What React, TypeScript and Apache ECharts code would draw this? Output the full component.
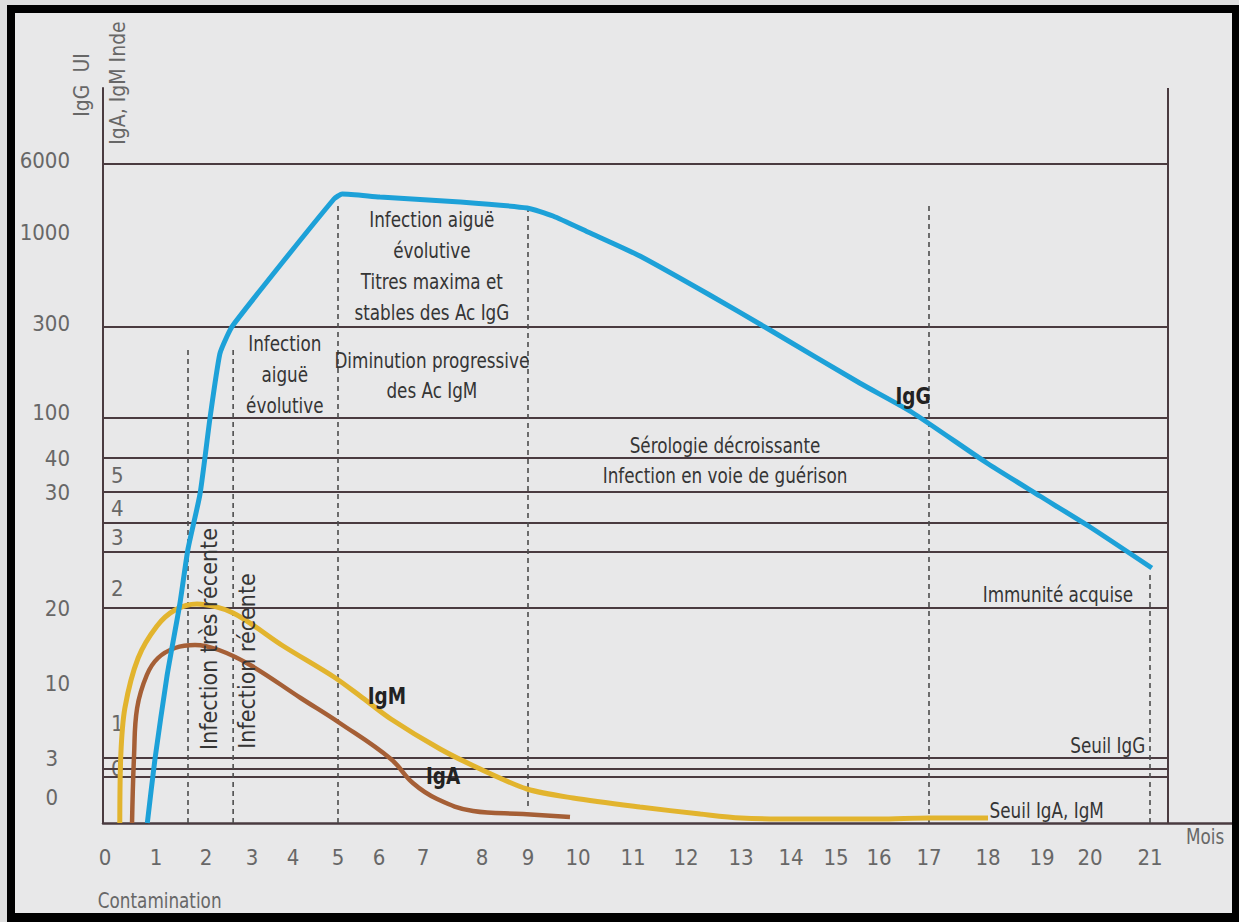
import React, { useEffect, useRef } from "react";
import * as echarts from "echarts";

// ---------- data ----------
const MONTH_LABELS = ["0","1","2","3","4","5","6","7","8","9","10","11","12","13","14","15","16","17","18","19","20","21"];
// position of each month tick along the (irregularly graduated) time axis
const MONTH_POS = [2, 53, 103, 149, 190, 235, 276, 320, 379, 425, 475, 530, 583, 638, 688, 733, 776, 826, 885, 939, 987, 1047];

// vertical graduation (arbitrary, non-linear scale of the original)
const IGG_LABELS = ["6000", "1000", "300", "100", "40", "30", "20", "10", "3", "0"];
const IGG_LABEL_LEVELS = [663, 591, 500, 411, 365, 331, 215, 140, 65, 26];
const IGAM_LABELS = ["5", "4", "3", "2", "1", "0"];
const IGAM_LABEL_LEVELS = [348, 315, 286, 235, 100, 55];

const LEVEL_LINES = [659, 496, 405, 365, 331, 300, 271, 215, 65, 54, 46];
const Y_TOP = 735;
const RIGHT_EDGE = 1065;
const X_END = 1129;

// [month, level]
const IGG_CURVE: [number, number][] = [
  [0.83, 0], [0.98, 64], [1.22, 147], [1.48, 220], [1.64, 274], [1.88, 329], [2.09, 406],
  [2.3, 469], [2.46, 487], [2.59, 498], [3.75, 561], [4.91, 624], [5.0, 627],
  [5.1, 629], [6.02, 626], [7.63, 621], [8.98, 615], [9.5, 607], [10.18, 591], [11.13, 567],
  [12.4, 529], [13.58, 493], [15.55, 440], [16.65, 411], [17.98, 360], [18.96, 327],
  [20.0, 296], [21.03, 255],
];
const IGM_CURVE: [number, number][] = [
  [0.29, 0], [0.31, 68], [0.39, 115], [0.65, 165], [1.02, 197], [1.38, 213], [1.82, 219],
  [2.59, 210], [3.76, 177], [4.91, 146], [5.54, 127], [6.27, 104], [7.29, 74], [7.97, 54],
  [8.98, 34], [9.9, 25], [11.13, 16], [12.26, 9], [13.0, 5], [14.18, 4], [16.0, 4],
  [17.0, 5], [18.0, 5],
];
const IGA_CURVE: [number, number][] = [
  [0.53, 0], [0.57, 68], [0.63, 115], [0.82, 148], [1.04, 165], [1.38, 175], [1.78, 178],
  [2.28, 173], [2.96, 158], [4.17, 125], [5.04, 100], [6.27, 64], [6.77, 40], [7.24, 24],
  [7.85, 12], [8.89, 9], [9.84, 6],
];

// phase separators: [month, from level, to level]
const PHASE_MARKS: [number, number, number][] = [
  [1.64, 0, 475], [2.59, 0, 475], [5, 0, 620], [9, 17, 613], [17, 0, 619], [21, 0, 250],
];

// ---------- helpers ----------
function monthToPos(m: number): number {
  const n = MONTH_POS.length;
  let i = Math.floor(m);
  if (i < 0) i = 0;
  if (i > n - 2) i = n - 2;
  return MONTH_POS[i] + (m - i) * (MONTH_POS[i + 1] - MONTH_POS[i]);
}

const FONT = "'DejaVu Sans Condensed', 'DejaVu Sans', sans-serif";
const PAPER = "#e8e8e9";
const RULE = "#4a3b40";
const TEXT = "#353535";
const NUM = "#676767";

type Ann = { text: string; at: [number, number]; lh?: number; rotate?: boolean; bold?: boolean; align?: string; color?: string; size?: number; sx?: number };

const ANNOTATIONS: Ann[] = [
  { text: "Infection aiguë\névolutive\nTitres maxima et\nstables des Ac IgG", at: [7.15, 556], lh: 31 },
  { text: "Diminution progressive\ndes Ac IgM", at: [7.15, 447], lh: 30 },
  { text: "Infection\naiguë\névolutive", at: [3.8, 448], lh: 31 },
  { text: "Infection très récente", at: [2.07, 184], rotate: true, size: 23, sx: 1 },
  { text: "Infection récente", at: [2.89, 162], rotate: true, size: 23, sx: 1 },
  { text: "Sérologie décroissante\nInfection en voie de guérison", at: [12.71, 362], lh: 30 },
  { text: "IgG", at: [16.68, 427], bold: true, size: 23 },
  { text: "IgM", at: [6.18, 127], bold: true, size: 23 },
  { text: "IgA", at: [7.34, 47], bold: true, size: 23 },
  { text: "Immunité acquise", at: [20.72, 228], align: "right" },
  { text: "Seuil IgG", at: [20.92, 77], align: "right" },
  { text: "Seuil IgA, IgM", at: [20.23, 12], align: "right" },
  { text: "Mois", at: [21.92, -14], color: NUM },
  { text: "Contamination", at: [-0.14, -78], align: "left", color: NUM },
  { text: "IgG  UI", at: [-0.45, 738], rotate: true, color: NUM, sx: 1 },
  { text: "IgA, IgM Inde", at: [0.25, 740], rotate: true, color: NUM, sx: 1 },
];

function labelFor(levels: number[], labels: string[], v: number): string {
  const i = levels.findIndex((l) => Math.abs(l - v) < 0.01);
  return i >= 0 ? labels[i] : "";
}

export default function App() {
  const ref = useRef<HTMLDivElement>(null);

  useEffect(() => {
    if (!ref.current) return;
    const chart = echarts.init(ref.current, undefined, { renderer: "svg" });

    const toXY = (arr: [number, number][]) => arr.map(([m, u]) => [monthToPos(m), u]);

    const option: any = {
      animation: false,
      backgroundColor: PAPER,
      grid: { left: 88, top: 75, right: 0, bottom: 90, containLabel: false },
      xAxis: {
        type: "value",
        min: 0,
        max: X_END,
        axisLine: { show: true, lineStyle: { color: RULE, width: 2.5 } },
        axisTick: { show: false },
        splitLine: { show: false },
        axisLabel: {
          customValues: MONTH_POS,
          formatter: (v: number) => labelFor(MONTH_POS, MONTH_LABELS, v),
          color: NUM,
          fontSize: 22,
          fontFamily: FONT,
          margin: 23,
          hideOverlap: false,
        },
      },
      yAxis: [
        {
          type: "value",
          min: 0,
          max: Y_TOP,
          axisLine: { show: true, lineStyle: { color: RULE, width: 2 } },
          axisTick: { show: false },
          splitLine: { show: false },
          axisLabel: {
            customValues: IGG_LABEL_LEVELS,
            formatter: (v: number) => {
              const t = labelFor(IGG_LABEL_LEVELS, IGG_LABELS, v);
              return t.length === 1 ? "{s|" + t + "}" : t;
            },
            color: NUM,
            fontSize: 22,
            fontFamily: FONT,
            margin: 33,
            rich: { s: { color: NUM, fontSize: 22, fontFamily: FONT, padding: [0, 12, 0, 0] } },
          },
        },
        {
          type: "value",
          min: 0,
          max: Y_TOP,
          position: "left",
          axisLine: { show: false },
          axisTick: { show: false },
          splitLine: { show: false },
          axisLabel: {
            inside: true,
            customValues: IGAM_LABEL_LEVELS,
            formatter: (v: number) => labelFor(IGAM_LABEL_LEVELS, IGAM_LABELS, v),
            color: NUM,
            fontSize: 22,
            fontFamily: FONT,
            margin: 8,
          },
        },
      ],
      series: [
        {
          type: "custom",
          name: "levels",
          silent: true,
          z: 1,
          data: LEVEL_LINES.map((u) => [0, u]),
          renderItem: (_p: any, api: any) => {
            const u = api.value(1);
            const a = api.coord([0, u]);
            const b = api.coord([RIGHT_EDGE, u]);
            return { type: "line", shape: { x1: a[0], y1: a[1], x2: b[0], y2: b[1] }, style: { stroke: RULE, lineWidth: 2 } };
          },
        },
        {
          type: "custom",
          name: "border",
          silent: true,
          z: 1,
          data: [[RIGHT_EDGE, 0, Y_TOP]],
          renderItem: (_p: any, api: any) => {
            const a = api.coord([api.value(0), api.value(1)]);
            const b = api.coord([api.value(0), api.value(2)]);
            return { type: "line", shape: { x1: a[0], y1: a[1], x2: b[0], y2: b[1] }, style: { stroke: RULE, lineWidth: 2 } };
          },
        },
        {
          type: "custom",
          name: "phases",
          silent: true,
          z: 1,
          data: PHASE_MARKS.map(([m, a, b]) => [monthToPos(m), a, b]),
          renderItem: (_p: any, api: any) => {
            const a = api.coord([api.value(0), api.value(1)]);
            const b = api.coord([api.value(0), api.value(2)]);
            return {
              type: "line",
              shape: { x1: a[0], y1: a[1], x2: b[0], y2: b[1] },
              style: { stroke: "#4d4d4d", lineWidth: 1.6, lineDash: [5, 4] },
            };
          },
        },
        {
          type: "line",
          name: "IgG",
          data: toXY(IGG_CURVE),
          showSymbol: false,
          smooth: 0.2,
          z: 4,
          lineStyle: { color: "#1da1d8", width: 5, cap: "butt" },
        },
        {
          type: "line",
          name: "IgM",
          data: toXY(IGM_CURVE),
          showSymbol: false,
          smooth: 0.3,
          z: 3,
          lineStyle: { color: "#e2b42e", width: 5, cap: "butt" },
        },
        {
          type: "line",
          name: "IgA",
          data: toXY(IGA_CURVE),
          showSymbol: false,
          smooth: 0.4,
          z: 3,
          lineStyle: { color: "#a55f36", width: 4.5, cap: "butt" },
        },
        {
          type: "custom",
          name: "texts",
          silent: true,
          clip: false,
          z: 6,
          data: ANNOTATIONS.map((a) => [monthToPos(a.at[0]), a.at[1]]),
          renderItem: (p: any, api: any) => {
            const a = ANNOTATIONS[p.dataIndex];
            const c = api.coord([api.value(0), api.value(1)]);
            const size = a.size || 21;
            const sx = a.sx !== undefined ? a.sx : 0.89;
            return {
              type: "text",
              x: c[0],
              y: c[1],
              scaleX: sx,
              rotation: a.rotate ? Math.PI / 2 : 0,
              style: {
                text: a.text,
                x: 0,
                y: 0,
                align: a.align || "center",
                verticalAlign: "middle",
                fontSize: size,
                fontFamily: FONT,
                fontWeight: a.bold ? "bold" : "normal",
                fill: a.bold ? "#222" : a.color || TEXT,
                lineHeight: a.lh || size * 1.2,
              },
            };
          },
        },
      ],
    };

    chart.setOption(option);
    return () => chart.dispose();
  }, []);

  return (
    <div style={{ position: "fixed", left: 0, top: 0, width: 1239, height: 922, background: "#dedede" }}>
      <div style={{ position: "absolute", left: 7, top: 5, right: 0, bottom: 0, background: "#000" }} />
      <div ref={ref} style={{ position: "absolute", left: 15, top: 13, width: 1217, height: 900 }} />
    </div>
  );
}
